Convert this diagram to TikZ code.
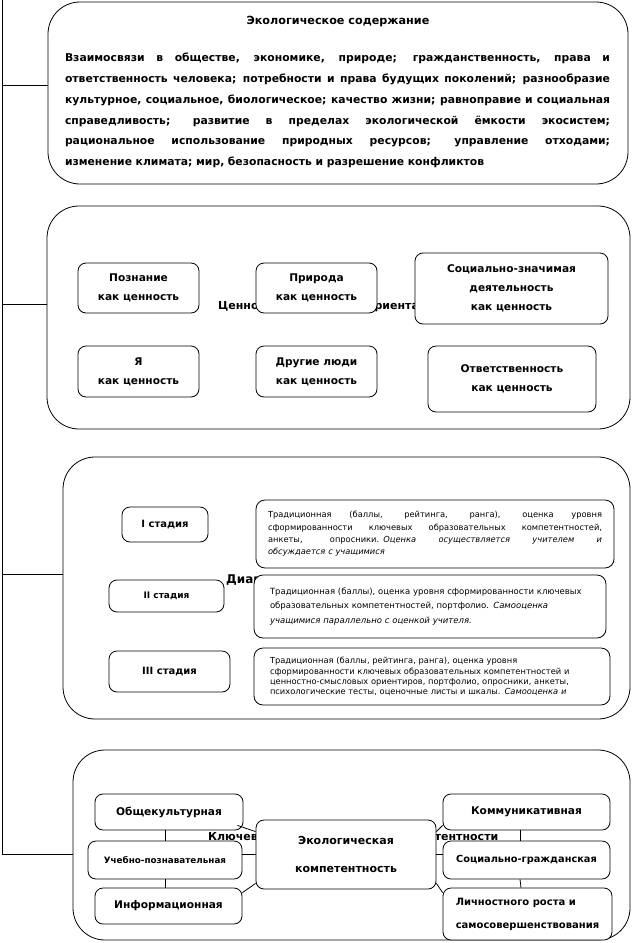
\documentclass[tikz,border=0pt]{standalone}
\usepackage{fontspec}
\setmainfont{DejaVu Sans}
\usetikzlibrary{calc}
\tikzset{
  ln/.style={line width=0.8pt},
  bigbox/.style={draw, line width=0.8pt, rounded corners=32pt, fill=white, inner sep=0pt},
  ibox/.style={draw, line width=0.8pt, rounded corners=8pt, fill=white, align=center, inner sep=0pt,
    font=\bfseries\fontsize{10.6}{19}\selectfont},
  dbox/.style={draw, line width=0.8pt, rounded corners=9pt, fill=white, inner sep=0pt, align=left},
  hidtitle/.style={anchor=west, inner sep=0pt, font=\bfseries\fontsize{11}{13}\selectfont},
}
\newcommand{\jl}[2]{\leavevmode\hbox to #1{\spaceskip=0.3em plus 10em\relax #2}}
\begin{document}
\begin{tikzpicture}[x=1pt,y=-1pt]
\useasboundingbox (0,0) rectangle (632,943);
% trunk
\coordinate (t0) at (2,0);
\coordinate (j1) at (2,85);
\coordinate (j2) at (2,304);
\coordinate (j3) at (2,574);
\coordinate (j4) at (2,854);
% big boxes
\node[bigbox, minimum width=580pt, minimum height=182pt] (B1) at (338,93) {};
\node[bigbox, minimum width=583pt, minimum height=223pt] (B2) at (338.5,317.5) {};
\node[bigbox, minimum width=567pt, minimum height=262pt] (B3) at (346.5,588) {};
\node[bigbox, minimum width=557pt, minimum height=190pt] (B4) at (351.5,845) {};
\draw[ln] (t0) -- (j4);
\draw[ln] (j1) -- (j1 -| B1.west);
\draw[ln] (j2) -- (j2 -| B2.west);
\draw[ln] (j3) -- (j3 -| B3.west);
\draw[ln] (j4) -- (j4 -| B4.west);
% box 1 content
\node[inner sep=0pt, font=\bfseries\fontsize{11.2}{13}\selectfont] (t1) at (338,22) {Экологическое содержание};
\node[inner sep=0pt, text width=545pt, align=left, font=\bfseries\fontsize{10.8}{20.8}\selectfont] (p1) at (337.5,110.5)
{\jl{545pt}{Взаимосвязи в обществе, экономике, природе; гражданственность, права и}\\
\jl{545pt}{ответственность человека; потребности и права будущих поколений; разнообразие}\\
\jl{545pt}{культурное, социальное, биологическое; качество жизни; равноправие и социальная}\\
\jl{545pt}{справедливость; развитие в пределах экологической ёмкости экосистем;}\\
\jl{545pt}{рациональное использование природных ресурсов; управление отходами;}\\
\mbox{изменение климата; мир, безопасность и разрешение конфликтов}};
% box 2 content
\node[hidtitle] (t2) at (218,307) {Ценностно-смысловые ориентации};
\node[ibox, minimum width=121pt, minimum height=50pt] (poz) at (138.5,288) {Познание\\как ценность};
\node[ibox, minimum width=121pt, minimum height=50pt] (prir) at (316.5,288) {Природа\\как ценность};
\node[ibox, minimum width=193pt, minimum height=71pt] (soc) at (511.5,288.5) {Социально-значимая\\деятельность\\как ценность};
\node[ibox, minimum width=121pt, minimum height=51pt] (ya) at (138.5,371.5) {Я\\как ценность};
\node[ibox, minimum width=121pt, minimum height=51pt] (drug) at (316.5,371.5) {Другие люди\\как ценность};
\node[ibox, minimum width=168pt, minimum height=66pt] (otv) at (512,379) {Ответственность\\как ценность};
% box 3 content
\node[hidtitle, font=\bfseries\fontsize{12}{14}\selectfont] (t3) at (226,580) {Диагностика};
\node[ibox, minimum width=86pt, minimum height=35pt, font=\bfseries\fontsize{10}{12}\selectfont] (s1) at (165,524.5) {I стадия};
\node[ibox, minimum width=115pt, minimum height=32pt, font=\bfseries\fontsize{9}{11}\selectfont] (s2) at (166.5,596) {II стадия};
\node[ibox, minimum width=121pt, minimum height=41pt, font=\bfseries\fontsize{10}{12}\selectfont] (s3) at (169.5,671.5) {III стадия};
\node[dbox, minimum width=358pt, minimum height=68pt, text width=334pt, font=\fontsize{8.3}{12.4}\selectfont] (d1) at (435,534)
{\jl{334pt}{Традиционная (баллы, рейтинга, ранга), оценка уровня}\\
\jl{334pt}{сформированности ключевых образовательных компетентностей,}\\
\jl{334pt}{анкеты, опросники. \textit{Оценка осуществляется учителем и}}\\
\mbox{\textit{обсуждается с учащимися}}};
\node[dbox, minimum width=352pt, minimum height=63pt, text width=320pt, font=\fontsize{8.5}{14.5}\selectfont] (d2) at (430,606.5)
{\mbox{Традиционная (баллы), оценка уровня сформированности ключевых}\\
\mbox{образовательных компетентностей, портфолио. \textit{Самооценка}}\\
\mbox{\textit{учащимися параллельно с оценкой учителя.}}};
\node[dbox, minimum width=356pt, minimum height=57pt, text width=324pt, font=\fontsize{8.3}{10.3}\selectfont] (d3) at (432,676.5)
{\mbox{Традиционная (баллы, рейтинга, ранга), оценка уровня}\\
\mbox{сформированности ключевых образовательных компетентностей и}\\
\mbox{ценностно-смысловых ориентиров, портфолио, опросники, анкеты,}\\
\mbox{психологические тесты, оценочные листы и шкалы. \textit{Самооценка и}}};
% box 4 content
\node[hidtitle] (t4) at (208,837) {Ключевые образовательные компетентности};
\node[ibox, minimum width=148pt, minimum height=36pt] (ob) at (169,812) {Общекультурная};
\node[ibox, minimum width=154pt, minimum height=38pt, font=\bfseries\fontsize{8.8}{10}\selectfont] (uch) at (165,860) {Учебно-познавательная};
\node[ibox, minimum width=147pt, minimum height=36pt] (inf) at (168.5,906) {Информационная};
\node[ibox, minimum width=180pt, minimum height=69pt, font=\bfseries\fontsize{11}{28}\selectfont] (eco) at (346,854.5) {Экологическая\\компетентность};
\node[ibox, minimum width=167pt, minimum height=36pt] (kom) at (526.5,812) {Коммуникативная};
\node[ibox, minimum width=167pt, minimum height=38pt, font=\bfseries\fontsize{9.8}{11}\selectfont] (socg) at (526.5,860) {Социально-гражданская};
\node[ibox, minimum width=169pt, minimum height=52pt, align=left, font=\bfseries\fontsize{10}{23}\selectfont] (lich) at (527.5,914) {Личностного роста и\\самосовершенствования};
% connectors box 4
\draw[ln] ($(ob.south east)+(-6,-5)$) -- ($(eco.north west)+(0,12)$);
\draw[ln] (eco.west -| uch.east) -- (eco.west);
\draw[ln] ($(inf.north east)+(0,5)$) -- ($(eco.south west)+(0,-6)$);
\draw[ln] ($(kom.south west)+(0,-5)$) -- ($(eco.north east)+(0,12)$);
\draw[ln] (eco.east) -- (eco.east -| socg.west);
\draw[ln] ($(lich.north west)+(0,5)$) -- ($(eco.south east)+(0,-6)$);
\draw[ln] (uch.north) -- (uch.north |- ob.south);
\draw[ln] (uch.south) -- (uch.south |- inf.north);
\draw[ln] ($(socg.north)+(-6.5,0)$) -- ($(kom.south)+(-6.5,0)$);
\draw[ln] ($(socg.south)+(-6.5,0)$) -- ($(lich.north)+(-6.5,0)$);
\end{tikzpicture}
\end{document}
